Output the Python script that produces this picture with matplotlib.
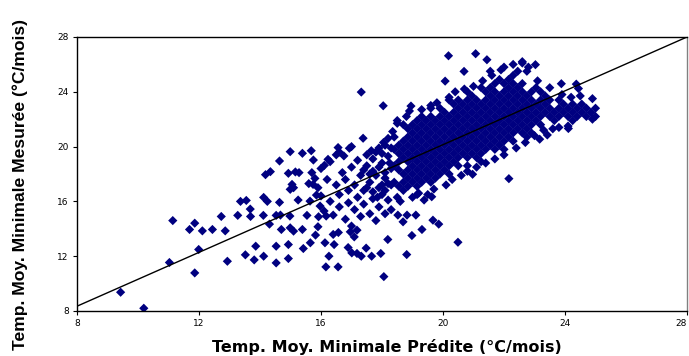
import matplotlib
matplotlib.use("Agg")
import matplotlib.pyplot as plt

# ---- sparse / outlying points (predicted, measured) ----
sparse_pred = [9.43, 10.19, 11.03, 11.14, 11.69, 11.86, 12.11, 11.86, 11.99, 12.44, 12.73, 12.86,
               12.93, 13.27, 13.36, 13.55, 13.68, 13.69, 13.52, 13.81, 13.86, 14.12, 14.11, 14.12,
               14.24, 14.18, 14.34, 14.31, 14.53, 14.64, 14.67, 14.70, 14.53, 14.53, 14.64, 14.99,
               14.93, 14.99, 15.05, 15.16, 15.10, 14.98, 14.99, 15.10, 14.93, 14.93, 15.25, 15.28,
               15.39, 15.42, 15.39, 15.54, 15.65, 15.68, 15.64, 15.75, 15.82, 15.80, 15.74, 15.85,
               15.90, 15.92, 15.97, 16.11, 16.13, 16.16, 16.17, 16.23, 16.26, 16.40, 16.43, 16.56,
               16.56, 16.57, 16.75, 16.93, 16.89, 17.01, 16.96, 17.09, 17.18, 17.18, 17.32, 17.32,
               17.38, 17.48, 17.66, 17.96, 18.06, 18.04, 18.19, 18.52, 18.69, 18.81, 18.82, 18.98,
               19.11, 19.31, 19.38, 19.63, 19.67, 19.86, 20.07, 20.18, 20.49, 20.69, 20.97, 21.07,
               21.44, 22.16, 23.03, 23.17, 23.42, 23.88, 24.11, 24.37, 24.44, 18.50, 18.95]
sparse_meas = [9.37, 8.20, 11.54, 14.60, 13.95, 14.41, 13.85, 10.78, 12.49, 13.95, 14.90, 13.85,
               11.63, 14.98, 16.00, 16.07, 15.44, 14.90, 12.10, 11.73, 12.73, 12.00, 14.98, 16.29,
               16.00, 17.95, 18.17, 14.34, 14.98, 15.93, 15.00, 13.95, 12.73, 11.51, 18.95, 19.63,
               18.05, 16.88, 17.24, 18.15, 17.00, 14.93, 14.07, 13.83, 12.85, 11.83, 16.10, 18.10,
               19.51, 12.56, 13.95, 14.98, 12.98, 19.70, 16.02, 19.02, 13.54, 17.68, 17.24, 16.46,
               14.15, 14.88, 15.66, 18.63, 12.98, 11.22, 14.93, 19.07, 12.00, 13.59, 12.85, 11.22,
               19.93, 13.73, 19.32, 19.88, 12.63, 12.24, 13.78, 13.41, 13.90, 12.20, 12.00, 23.98,
               20.61, 12.59, 12.00, 12.20, 10.51, 22.98, 13.22, 15.00, 14.51, 12.12, 15.00, 13.51,
               15.00, 13.95, 16.10, 16.34, 14.63, 14.34, 24.78, 26.63, 13.02, 25.49, 17.98, 26.78,
               26.34, 17.66, 25.98, 20.54, 20.85, 24.59, 21.32, 24.56, 24.24, 21.70, 22.96]

# ---- moderately scattered points around the main cloud ----
mid_pred = [15.6, 15.7, 15.9, 16.0, 16.0, 16.1, 16.2, 16.3, 16.3, 16.4, 16.5, 16.5, 16.6, 16.6,
            16.7, 16.8, 16.8, 16.9, 16.9, 17.0, 17.0, 17.1, 17.1, 17.2, 17.2, 17.3, 17.3, 17.4,
            17.4, 17.5, 17.5, 17.6, 17.6, 17.7, 17.7, 17.8, 17.8, 17.9, 17.9, 18.0, 18.0, 18.1,
            18.1, 18.1, 18.2, 18.2, 18.3, 18.3, 18.3, 18.4, 18.5, 18.5, 18.6, 18.7, 18.8, 18.9,
            19.0, 19.2, 19.3, 19.5, 19.7, 19.8, 19.6, 20.1, 20.3, 20.2, 20.4, 20.6, 20.7, 20.8,
            21.0, 21.1, 21.3, 21.4, 21.6, 21.7, 21.9, 22.0, 22.3, 22.4, 22.6, 22.7, 22.8, 23.0,
            23.1, 23.3, 23.5, 23.6, 23.9, 24.2, 24.5, 24.9, 24.9, 24.1, 23.8, 16.6, 17.0,
            17.6, 17.8, 17.9, 18.0, 18.1, 18.2, 18.3, 17.7, 18.2, 18.0,
            17.5, 17.7, 17.9, 18.1, 18.25, 17.85, 18.35, 17.4, 18.05, 17.65]
mid_meas = [17.3, 18.1, 17.0, 16.4, 18.4, 15.3, 17.6, 16.0, 18.9, 15.0, 17.2, 19.4, 15.6, 16.5,
            18.1, 14.7, 17.6, 15.9, 16.8, 18.5, 14.2, 15.4, 17.2, 16.3, 19.0, 14.9, 17.9, 15.8,
            16.8, 18.6, 19.4, 15.1, 17.4, 16.2, 18.2, 14.6, 19.6, 15.6, 17.0, 16.5, 18.8, 15.1,
            17.7, 20.1, 16.1, 19.3, 15.4, 17.2, 18.4, 20.7, 16.3, 21.9, 16.0, 21.6, 22.2, 22.6,
            16.3, 16.6, 22.7, 16.5, 16.9, 23.2, 23.0, 17.2, 17.6, 23.6, 24.0, 17.9, 24.2, 18.2,
            24.4, 18.5, 24.8, 18.8, 25.2, 19.1, 25.6, 19.4, 26.0, 19.9, 26.1, 20.3, 25.8, 20.8,
            24.8, 21.2, 24.3, 21.3, 23.8, 23.6, 23.7, 23.5, 22.0, 21.5, 21.4, 19.6, 20.0,
            18.0, 17.9, 18.5, 19.5, 18.1, 17.3, 19.9, 19.1, 20.6, 17.2,
            17.0, 16.7, 19.9, 16.8, 18.8, 16.3, 21.1, 18.3, 20.3, 19.7]

# ---- dense core, read column by column: predicted value -> measured values ----
core_cols = [
    (18.40, [17.4, 18.6, 19.8]),
    (18.55, [17.1, 18.3, 18.9, 19.5, 20.1]),
    (18.70, [16.8, 17.4, 18.0, 19.2, 19.8, 20.4]),
    (18.85, [17.1, 17.7, 18.3, 18.9, 19.5, 20.1, 20.7, 21.3]),
    (19.00, [17.4, 18.0, 18.6, 19.2, 19.8, 20.4, 21.0, 21.6]),
    (19.15, [16.5, 17.1, 17.7, 18.3, 18.9, 19.5, 20.1, 20.7, 21.3, 21.9]),
    (19.30, [17.4, 18.0, 18.6, 19.2, 19.8, 20.4, 21.0, 21.6, 22.2]),
    (19.45, [17.7, 18.3, 18.9, 19.5, 20.1, 20.7, 21.3, 21.9]),
    (19.60, [17.4, 18.0, 18.6, 19.2, 19.8, 20.4, 21.0, 21.6, 22.2, 22.8]),
    (19.75, [17.7, 18.3, 18.9, 19.5, 20.1, 20.7, 21.3, 21.9]),
    (19.90, [18.0, 18.6, 19.2, 19.8, 20.4, 21.0, 21.6, 22.2, 22.8]),
    (20.05, [18.3, 18.9, 19.5, 20.1, 20.7, 21.3, 21.9, 22.5]),
    (20.20, [18.0, 18.6, 19.2, 19.8, 20.4, 21.0, 21.6, 22.2, 23.4]),
    (20.35, [18.9, 19.5, 20.1, 20.7, 21.3, 21.9, 22.5, 23.1]),
    (20.50, [18.6, 19.2, 19.8, 20.4, 21.0, 21.6, 22.2, 22.8, 23.4]),
    (20.65, [19.5, 20.1, 20.7, 21.3, 21.9, 22.5, 23.1]),
    (20.80, [18.6, 19.2, 19.8, 20.4, 21.0, 21.6, 22.2, 22.8, 23.4, 24.0]),
    (20.95, [19.5, 20.1, 20.7, 21.3, 21.9, 22.5, 23.1, 23.7]),
    (21.10, [19.2, 19.8, 20.4, 21.0, 21.6, 22.2, 22.8, 23.4]),
    (21.25, [18.9, 19.5, 20.1, 20.7, 21.3, 21.9, 22.5, 23.1, 24.3]),
    (21.40, [19.8, 20.4, 21.0, 21.6, 22.2, 22.8, 23.4, 24.0]),
    (21.55, [20.1, 20.7, 21.3, 21.9, 22.5, 23.1, 23.7, 24.3, 25.5]),
    (21.70, [19.8, 20.4, 21.0, 21.6, 22.2, 22.8, 23.4, 24.0, 24.6]),
    (21.85, [20.1, 20.7, 21.3, 21.9, 22.5, 23.1, 23.7, 24.9]),
    (22.00, [19.8, 20.4, 21.0, 21.6, 22.2, 22.8, 23.4, 24.0, 24.6, 25.8]),
    (22.15, [20.7, 21.3, 21.9, 22.5, 23.1, 23.7, 24.3, 24.9]),
    (22.30, [20.4, 21.0, 21.6, 22.2, 22.8, 23.4, 24.0, 24.6, 25.2]),
    (22.45, [21.3, 21.9, 22.5, 23.1, 23.7, 24.3, 25.5]),
    (22.60, [21.0, 21.6, 22.2, 22.8, 23.4, 24.0, 24.6, 26.2]),
    (22.75, [20.7, 21.3, 21.9, 22.5, 23.1, 23.7, 25.5]),
    (22.90, [21.0, 21.6, 22.2, 22.8, 23.4, 24.0]),
    (23.05, [21.9, 22.5, 23.1, 24.3]),
    (23.20, [21.6, 22.2, 22.8, 23.4, 24.0]),
    (23.35, [22.5, 23.1, 23.7]),
    (23.50, [22.2, 22.8, 23.4]),
    (23.65, [21.9, 22.5]),
    (23.80, [22.2, 22.8, 23.4]),
    (23.95, [22.5, 23.1]),
    (24.10, [22.2, 22.8]),
    (24.25, [21.9, 22.5, 23.1]),
    (24.40, [22.2, 22.8]),
    (24.55, [22.5, 23.1]),
    (24.70, [22.2, 22.8]),
    (24.85, [22.5]),
    (25.00, [22.2, 22.8]),
]

# reference line
line_pred = [8, 28]
line_meas = [8.35, 28]

ticks = [8, 12, 16, 20, 24, 28]

pred = list(sparse_pred) + list(mid_pred)
meas = list(sparse_meas) + list(mid_meas)
for xv, ys in core_cols:
    for yv in ys:
        pred.append(xv)
        meas.append(yv)

fig = plt.figure(figsize=(6.89, 3.56), dpi=100)
ax = fig.add_axes([77/689, 1 - 311/356, 610/689, 274/356])

ax.plot(line_pred, line_meas, color="black", lw=1.0, zorder=3)
ax.scatter(pred, meas, marker="D", s=22, color="#000080", edgecolors="none", zorder=2)

ax.set_xlim(8, 28)
ax.set_ylim(8, 28)
ax.set_xticks(ticks)
ax.set_yticks(ticks)
tick_font = ["Liberation Sans Narrow", "DejaVu Sans"]
ax.set_xticklabels([str(t) for t in ticks], fontsize=6.5, family=tick_font)
ax.set_yticklabels([str(t) for t in ticks], fontsize=6.5, family=tick_font)
ax.get_xticklabels()[-1].set_horizontalalignment("right")
ax.tick_params(direction="out", length=3, width=0.8, pad=3)
for s in ax.spines.values():
    s.set_linewidth(1.0)
    s.set_color("black")
ax.spines["right"].set_color("#808080")

fig.text(387/689, 1 - 347/356, "Temp. Moy. Minimale Prédite (°C/mois)", ha="center", va="center",
         fontsize=11.5, fontweight="bold", family=["Liberation Sans Narrow", "DejaVu Sans"])
fig.text(20/689, 1 - 184/356, "Temp. Moy. Minimale Mesurée (°C/mois)", ha="center", va="center",
         rotation=90, fontsize=12.6, fontweight="bold", family=["Liberation Sans", "DejaVu Sans"])

fig.savefig("out.png", dpi=100)
